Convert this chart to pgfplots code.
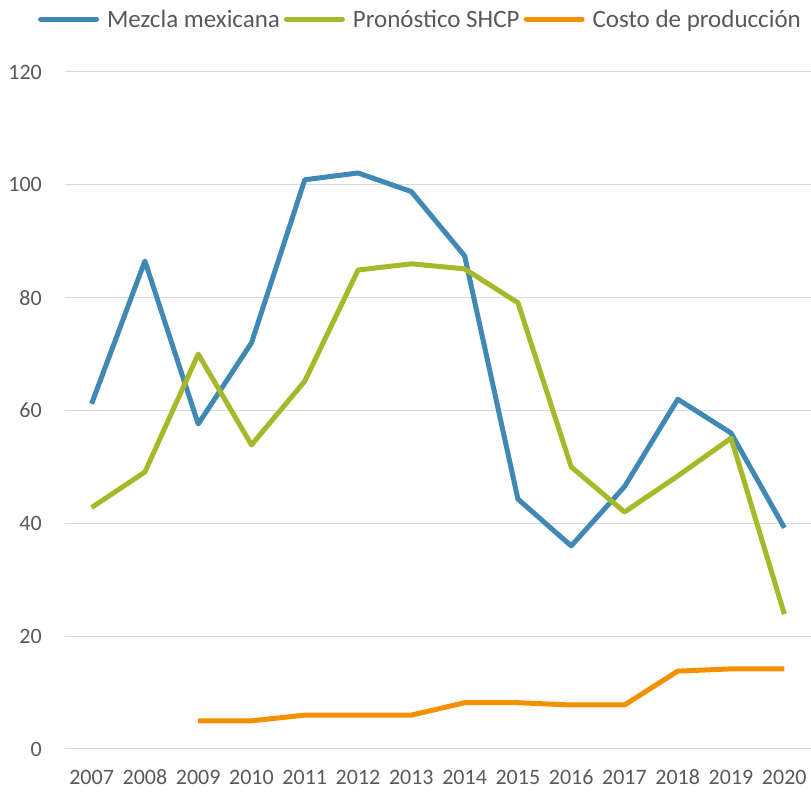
\documentclass[border=0pt]{standalone}
\usepackage{pgfplots}
\pgfplotsset{compat=1.18}
\usepackage{fontspec}
\setmainfont{Carlito}
\definecolor{cblue}{HTML}{4189B5}
\definecolor{cgreen}{HTML}{A5B92A}
\definecolor{corange}{HTML}{F59100}
\definecolor{cgrid}{HTML}{D9D9D9}
\definecolor{ctext}{HTML}{595959}
\begin{document}
\begin{tikzpicture}
\begin{axis}[
  scale only axis,
  width=746pt, height=677pt,
  xmin=2006.5, xmax=2020.5,
  ymin=0, ymax=120,
  xtick={2007,...,2020},
  ytick={0,20,...,120},
  /pgf/number format/1000 sep={},
  /pgf/number format/assume math mode=true,
  ymajorgrids, grid style={cgrid, line width=1pt},
  axis line style={draw=none},
  major tick length=0pt,
  tick label style={font=\fontsize{22}{24}\selectfont, text=ctext},
  yticklabel style={anchor=east, inner sep=0pt, xshift=-23pt},
  xticklabel style={anchor=base, inner sep=0pt, yshift=-36pt},
  legend style={draw=none, fill=none, at={(0.4765,1.078)}, anchor=center,
    legend columns=3, font=\fontsize{25}{27}\selectfont, text=ctext,
    inner sep=0pt,
    nodes={inner xsep=2pt},
    /tikz/every even column/.append style={column sep=2pt},
    /tikz/every odd column/.append style={column sep=6pt}},
  legend image code/.code={\draw[#1, line cap=round] (0pt,0pt) -- (56pt,0pt);},
  every axis plot/.append style={line width=5pt, line join=round},
]
\addplot[cblue, mark=none] coordinates {
(2007,61.2) (2008,86.5) (2009,57.6) (2010,72.0) (2011,100.9) (2012,102.1) (2013,98.8)
(2014,87.4) (2015,44.3) (2016,36.0) (2017,46.5) (2018,62.0) (2019,56.0) (2020,39.2)};
\addlegendentry{Mezcla mexicana}
\addplot[cgreen, mark=none] coordinates {
(2007,42.8) (2008,49.1) (2009,70.0) (2010,53.9) (2011,65.2) (2012,84.9) (2013,86.0)
(2014,85.1) (2015,79.1) (2016,50.0) (2017,42.0) (2018,48.4) (2019,55.1) (2020,23.9)};
\addlegendentry{Pronóstico SHCP}
\addplot[corange, mark=none] coordinates {
(2009,5.0) (2010,5.0) (2011,6.0) (2012,6.0) (2013,6.0) (2014,8.2) (2015,8.2)
(2016,7.8) (2017,7.8) (2018,13.8) (2019,14.2) (2020,14.2)};
\addlegendentry{Costo de producción}
\end{axis}
\pgfresetboundingbox
\path[use as bounding box] ([shift={(-65pt,-45pt)}]current axis.south west) rectangle ([shift={(0pt,72pt)}]current axis.north east);
\end{tikzpicture}
\end{document}
